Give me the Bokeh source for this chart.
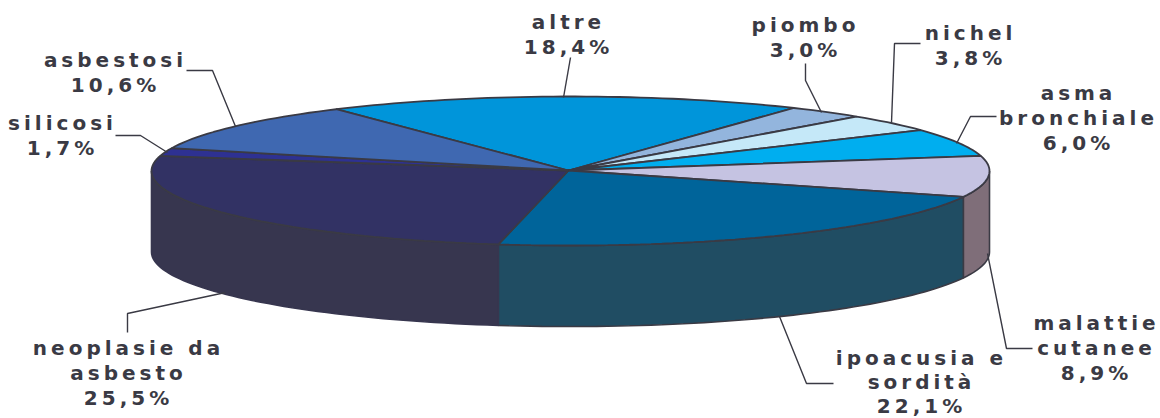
import math
from bokeh.plotting import figure
from bokeh.models import ColumnDataSource
from bokeh.core.properties import value
from bokeh.embed import file_html
from bokeh.resources import INLINE

# data
names = ["altre", "piombo", "nichel", "asma bronchiale", "malattie cutanee",
         "ipoacusia e sordità", "neoplasie da asbesto", "silicosi", "asbestosi"]
percent = [18.4, 3.0, 3.8, 6.0, 8.9, 22.1, 25.5, 1.7, 10.6]
pct_labels = ["18,4%", "3,0%", "3,8%", "6,0%", "8,9%", "22,1%", "25,5%", "1,7%", "10,6%"]
label_lines = [["altre"], ["piombo"], ["nichel"], ["asma", "bronchiale"], ["malattie", "cutanee"],
               ["ipoacusia e", "sordità"], ["neoplasie da", "asbesto"], ["silicosi"], ["asbestosi"]]

# style / layout
top_colors = ["#0095da", "#93b5dd", "#c5e8f8", "#00aeef", "#c5c3e2", "#00649a", "#323264", "#2e3192", "#3f68b1"]
side_colors = {4: "#7f6e79", 5: "#204d63", 6: "#37364f"}
EDGE = "#3a3a44"
CX, CY, RX, RY, DEPTH = 570.0, 170.5, 419.0, 74.5, 81.0
APEX = (568.0, 170.0)
START = -34.0
FONT_PX = 20
SPACING = 4.0
# centre x, first-line centre y and line step of each label
label_pos = [(566, 21, 25), (803, 24, 25), (968, 32, 25), (1076, 92, 25), (1094, 322, 25),
             (919, 357, 24), (126, 347, 25), (60, 122, 25), (113, 59, 25)]
# leader polylines, in page pixels
leaders = [
    [(570, 57), (563, 97)],
    [(805, 63), (805, 80), (821, 112)],
    [(920, 43), (894, 43), (891, 122)],
    [(996, 116), (970, 116), (956, 143)],
    [(1032, 348), (1006, 348), (987, 253)],
    [(833, 383), (806, 383), (779, 316)],
    [(127, 332), (127, 313), (225, 292)],
    [(115, 135), (140, 135), (167, 152)],
    [(186, 70), (212, 70), (235, 126)],
]

p = figure(width=1160, height=418, x_range=(0, 1160), y_range=(418, 0), toolbar_location=None,
           output_backend="svg", min_border=0, outline_line_color=None,
           styles={"letter-spacing": f"{SPACING}px"})
p.xaxis.visible = False
p.yaxis.visible = False
p.grid.visible = False
p.background_fill_color = "white"


def rim(deg, dy=0.0):
    a = math.radians(deg)
    return CX + RX * math.sin(a), CY - RY * math.cos(a) + dy


total = sum(percent)
edges = [START]
for v in percent:
    edges.append(edges[-1] + v / total * 360.0)

# outer wall: only the front half of the disc is visible
for i, col in side_colors.items():
    a0, a1 = max(edges[i], 90.0), min(edges[i + 1], 270.0)
    n = max(2, int((a1 - a0) / 1.5))
    angs = [a0 + (a1 - a0) * k / n for k in range(n + 1)]
    upper = [rim(a) for a in angs]
    lower = [rim(a, DEPTH) for a in reversed(angs)]
    pts = upper + lower
    p.patch([q[0] for q in pts], [q[1] for q in pts], fill_color=col,
            line_color=EDGE if i != 6 else col, line_width=1.6)

# top face
for i, col in enumerate(top_colors):
    a0, a1 = edges[i], edges[i + 1]
    n = max(2, int((a1 - a0) / 1.5))
    pts = [APEX] + [rim(a0 + (a1 - a0) * k / n) for k in range(n + 1)]
    p.patch([q[0] for q in pts], [q[1] for q in pts], fill_color=col, line_color=EDGE, line_width=1.8)

# leader lines
for seg in leaders:
    p.line([q[0] for q in seg], [q[1] for q in seg], line_color=EDGE, line_width=1.4)

# labels
tx, ty, tt = [], [], []
for lines, pct, (x, y, step) in zip(label_lines, pct_labels, label_pos):
    for k, s in enumerate(lines + [pct]):
        # Bokeh centres on the width without letter spacing, so take the extra width off here
        tx.append(x - SPACING * (len(s) - 1) / 2)
        ty.append(y + k * step)
        tt.append(s)
src = ColumnDataSource(dict(x=tx, y=ty, t=tt))
p.text("x", "y", text="t", source=src, text_align="center", text_baseline="middle",
       text_font=value("DejaVu Sans"), text_font_style="bold", text_font_size=f"{FONT_PX}px", text_color=EDGE)

open("out.html", "w").write(file_html(p, INLINE))
